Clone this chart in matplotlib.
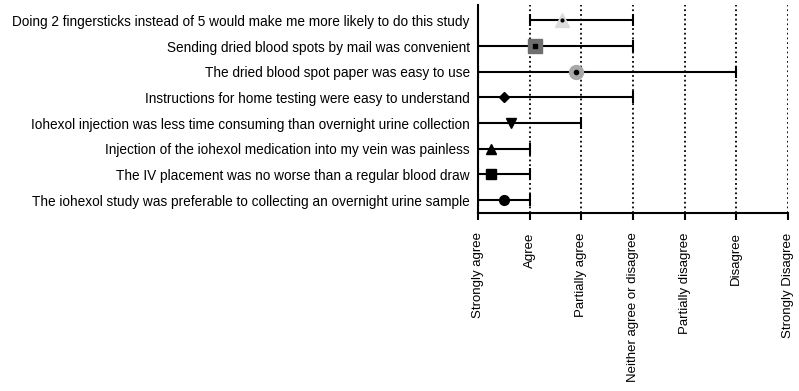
import matplotlib
matplotlib.use("Agg")
import matplotlib.pyplot as plt

plt.rcParams['font.family'] = ['Liberation Sans', 'DejaVu Sans']

# Aussagen (oben nach unten)
statements = [
    "Doing 2 fingersticks instead of 5 would make me more likely to do this study",
    "Sending dried blood spots by mail was convenient",
    "The dried blood spot paper was easy to use",
    "Instructions for home testing were easy to understand",
    "Iohexol injection was less time consuming than overnight urine collection",
    "Injection of the iohexol medication into my vein was painless",
    "The IV placement was no worse than a regular blood draw",
    "The iohexol study was preferable to collecting an overnight urine sample",
]
scale_labels = ["Strongly agree", "Agree", "Partially agree", "Neither agree or disagree",
                "Partially disagree", "Disagree", "Strongly Disagree"]

center = [2.63, 2.1, 2.9, 1.5, 1.63, 1.25, 1.25, 1.5]
low = [2, 1, 1, 1, 1, 1, 1, 1]
high = [4, 4, 6, 4, 3, 2, 2, 2]

markers = ['^', 's', 'o', 'D', 'v', '^', 's', 'o']
face = ['#dcdcdc', '#6e6e6e', '#a8a8a8', 'black', 'black', 'black', 'black', 'black']
sizes = [10, 10, 10, 5, 7, 7, 7, 7]
dot = [True, True, True, False, False, False, False, False]

fig = plt.figure(figsize=(7.99, 3.91), dpi=100)
ax = fig.add_axes([478 / 799, 1 - 213 / 391, 310 / 799, 208 / 391])

n = len(statements)
for i in range(n):
    y = n - 1 - i
    ax.errorbar(center[i], y, xerr=[[center[i] - low[i]], [high[i] - center[i]]],
                fmt='none', ecolor='black', elinewidth=1.5, capsize=4, capthick=1.5, zorder=3)
    ax.plot(center[i], y, marker=markers[i], color=face[i], markersize=sizes[i],
            linestyle='none', zorder=4)
    if dot[i]:
        ax.plot(center[i], y, marker='s' if markers[i] == 's' else 'o', color='black',
                markersize=3 if i else 2, linestyle='none', zorder=5)

for xv in range(2, 8):
    ax.axvline(xv, color='black', linestyle=(0, (1, 1.6)), linewidth=1.3, zorder=1)

ax.set_xlim(1, 7)
ax.set_ylim(-0.5, 7.6)
ax.set_xticks(range(1, 8))
ax.set_xticklabels(scale_labels, rotation=90, fontsize=9.5)
ax.set_yticks(range(n))
ax.set_yticklabels(statements[::-1], fontsize=9.8)
ax.tick_params(axis='y', length=0, pad=6)
ax.tick_params(axis='x', length=5, width=1.5, pad=9)
for s in ['top', 'right']:
    ax.spines[s].set_visible(False)
for s in ['left', 'bottom']:
    ax.spines[s].set_linewidth(1.5)

fig.savefig("out.png", dpi=100)
